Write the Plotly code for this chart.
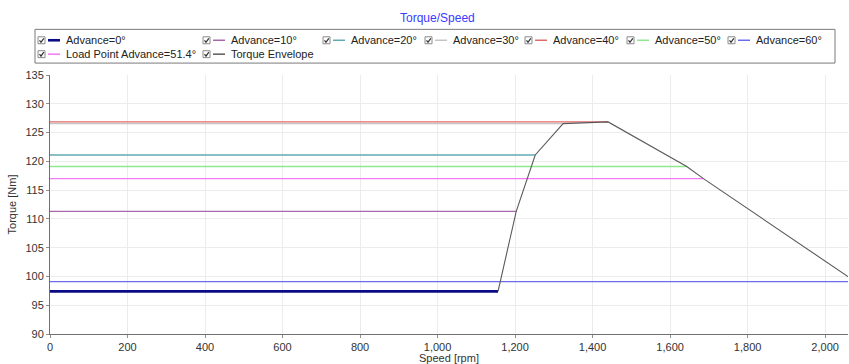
import plotly.graph_objects as go

# Constant-torque curves per advance angle: torque level and the speed where each ends
series_names = ["Advance=0°", "Advance=10°", "Advance=20°", "Advance=30°",
                "Advance=40°", "Advance=50°", "Advance=60°",
                "Load Point Advance=51.4°"]
series_torque = [97.4, 111.3, 121.1, 126.55, 126.85, 119.1, 99.1, 117.0]
series_end_speed = [1156, 1203, 1252, 1324, 1440, 1643, 2078, 1686]
series_colors = ["#0b0b85", "#a668ad", "#62aab3", "#c4c4c4",
                 "#e26868", "#8ee88e", "#6b6bf0", "#f27af2"]
series_widths = [2.6, 1.3, 1.3, 1.3, 1.3, 1.3, 1.3, 1.3]

# Torque envelope corner points
envelope_name = "Torque Envelope"
envelope_speed = [1156, 1203, 1252, 1324, 1440, 1643, 1686, 2078]
envelope_torque = [97.4, 111.3, 121.1, 126.55, 126.85, 119.1, 117.0, 99.1]
envelope_color = "#5a5a5a"

x_ticks = [0, 200, 400, 600, 800, 1000, 1200, 1400, 1600, 1800, 2000]
y_ticks = [90, 95, 100, 105, 110, 115, 120, 125, 130, 135]

W, H = 849, 364
ML, MR, MT, MB = 50, 1, 75, 28
PW, PH = W - ML - MR, H - MT - MB


def px(x):
    return (x - ML) / PW


def py(y):
    return (H - MB - y) / PH


fig = go.Figure()

for name, t, xe, c, w in zip(series_names, series_torque, series_end_speed,
                             series_colors, series_widths):
    fig.add_trace(go.Scatter(x=[0, xe], y=[t, t], mode="lines", name=name,
                             line=dict(color=c, width=w), showlegend=False))

fig.add_trace(go.Scatter(x=envelope_speed, y=envelope_torque, mode="lines",
                         name=envelope_name,
                         line=dict(color=envelope_color, width=1.1),
                         showlegend=False))

# Legend box with checkbox, line sample and label for each entry
shapes = []
annotations = []
shapes.append(dict(type="rect", xref="paper", yref="paper",
                   x0=px(35), x1=px(835), y0=py(63), y1=py(29),
                   line=dict(color="#7a7a7a", width=1), fillcolor="white",
                   layer="above"))

legend_entries = list(zip(series_names[:7], series_colors[:7], series_widths[:7]))
row1_x = [38, 203, 323, 425, 525, 627, 728]
entries = [(n, c, w, x, 40) for (n, c, w), x in zip(legend_entries, row1_x)]
entries.append((series_names[7], series_colors[7], series_widths[7], 38, 54))
entries.append((envelope_name, envelope_color, 1.1, 203, 54))

for name, color, width, x, y in entries:
    # checkbox
    shapes.append(dict(type="rect", xref="paper", yref="paper",
                       x0=px(x), x1=px(x + 7), y0=py(y + 3.5), y1=py(y - 3.5),
                       line=dict(color="#8a8a8a", width=1), fillcolor="white",
                       layer="above"))
    shapes.append(dict(type="path", xref="paper", yref="paper",
                       path=f"M {px(x + 1.5)},{py(y)} L {px(x + 3)},{py(y + 2)} "
                            f"L {px(x + 5.8)},{py(y - 2)}",
                       line=dict(color="#303030", width=1.2), layer="above"))
    # line sample
    shapes.append(dict(type="line", xref="paper", yref="paper",
                       x0=px(x + 10), x1=px(x + 22), y0=py(y), y1=py(y),
                       line=dict(color=color, width=max(width, 1.5)),
                       layer="above"))
    annotations.append(dict(text=name, xref="paper", yref="paper",
                            x=px(x + 26), y=py(y), xanchor="left",
                            yanchor="middle", showarrow=False,
                            font=dict(family="Liberation Sans", size=11,
                                      color="#222222")))

annotations.append(dict(text="Torque/Speed", xref="paper", yref="paper",
                        x=px(437), y=py(18), xanchor="center", yanchor="middle",
                        showarrow=False,
                        font=dict(family="Liberation Sans", size=12,
                                  color="#3a3aff")))

fig.update_layout(
    width=W, height=H,
    margin=dict(l=ML, r=MR, t=MT, b=MB),
    paper_bgcolor="white", plot_bgcolor="white",
    shapes=shapes, annotations=annotations,
    font=dict(family="Liberation Sans", size=11, color="#333333"),
    xaxis=dict(range=[0, 2059], tickvals=x_ticks,
               ticktext=[f"{v:,}" for v in x_ticks],
               showgrid=True, gridcolor="#ececec", gridwidth=1,
               zeroline=False, showline=True, linecolor="#707070",
               linewidth=1, ticks="outside", ticklen=3, tickcolor="#909090",
               tickfont=dict(size=11, color="#333333"),
               title=dict(text="Speed [rpm]", standoff=2,
                          font=dict(size=11, color="#333333"))),
    yaxis=dict(range=[90, 135], tickvals=y_ticks,
               showgrid=True, gridcolor="#ececec", gridwidth=1,
               zeroline=False, showline=True, linecolor="#707070",
               linewidth=1, ticks="outside", ticklen=3, tickcolor="#909090",
               tickfont=dict(size=11, color="#333333"),
               title=dict(text="Torque [Nm]", standoff=6,
                          font=dict(size=11, color="#333333"))),
)

fig.write_html("out.html")
